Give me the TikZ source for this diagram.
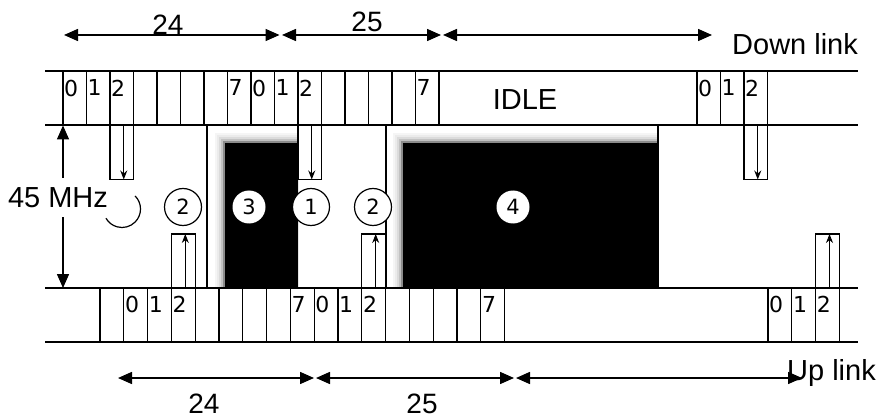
\documentclass[tikz,border=0pt]{standalone}
\usepackage{fontspec}
\setmainfont{Liberation Sans}
\newfontfamily\digitfont{DejaVu Sans}
\usetikzlibrary{arrows.meta,positioning,calc}

\begin{document}
\begin{tikzpicture}[x=1pt,y=1pt,
  slot/.style={draw,line width=1.3pt,minimum width=#1,minimum height=54pt,
               inner sep=0pt,outer sep=0pt,anchor=south west},
  slot/.default=23.5pt,
  num/.style={anchor=north west,inner sep=0pt,xshift=1pt,yshift=-8pt,
              font=\digitfont\fontsize{22}{22}\selectfont},
  big/.style={inner sep=0pt,font=\fontsize{29}{29}\selectfont},
  len/.style={big,anchor=base,font=\fontsize{28}{28}\selectfont},
  ring/.style={circle,draw,fill=white,line width=1.2pt,minimum size=37pt,
               inner sep=0pt,font=\digitfont\fontsize{21}{21}\selectfont},
  spot/.style={circle,fill=white,minimum size=33pt,inner sep=0pt,
               font=\digitfont\fontsize{21}{21}\selectfont},
  dimline/.style={<->,line width=1.5pt},
  feed/.style={-{Stealth[length=9pt,width=7pt]},line width=1pt},
  rail/.style={line width=2pt},
  edge/.style={line width=1.5pt},
  >={Triangle[length=14pt,width=12pt]}]
\useasboundingbox (0,0) rectangle (885,418);

% busy periods
\begin{scope}
  \clip (207,130) rectangle (298,292.5);
  \foreach \g/\d in {4/10,8/8,14/6,24/4,45/2}
    \fill[black!\g] (225-\d,130) rectangle (298+\d,275+\d);
  \fill (225,130) rectangle (298,275);
\end{scope}
\begin{scope}
  \clip (386,130) rectangle (658,292.5);
  \foreach \g/\d in {4/10,8/8,14/6,24/4,45/2}
    \fill[black!\g] (403-\d,130) rectangle (658+\d,275+\d);
  \fill (403,130) rectangle (658,275);
\end{scope}
\draw[edge] (207,130) -- (207,292.5);
\draw[edge] (386,130) -- (386,292.5);
\draw[edge] (658,130) -- (658,292.5);

\draw[rail] (45,346.5) -- (858,346.5);
\draw[rail] (45,292.5) -- (858,292.5);
\draw[rail] (45,130) -- (858,130);
\draw[rail] (45,76) -- (858,76);

% down link slots
\foreach \k in {0,...,15}
  \node[slot] (d\k) at ({63+23.5*\k},292.5) {};
\foreach \k in {0,1,2}
  \node[slot] (dr\k) at ({697+23.5*\k},292.5) {};
\foreach \k/\n in {0/0,1/1,2/2,7/7,8/0,9/1,10/2,15/7}
  \node[num] (nd\k) at (d\k.north west) {\n};
\foreach \k in {0,1,2}
  \node[num] (ndr\k) at (dr\k.north west) {\k};

% up link slots
\foreach \k in {0,...,16}
  \node[slot=23.8pt] (u\k) at ({100+23.8*\k},76) {};
\foreach \k in {0,1,2}
  \node[slot=23.8pt] (ur\k) at ({768+23.8*\k},76) {};
\foreach \k/\n in {1/0,2/1,3/2,8/7,9/0,10/1,11/2,16/7}
  \node[num] (nu\k) at (u\k.north west) {\n};
\foreach \k in {0,1,2}
  \node[num] (nur\k) at (ur\k.north west) {\k};

% slot 2 hand-off
\node[slot,anchor=north west] (qa) at (d2.south west) {};
\node[slot,anchor=north west] (qb) at (d10.south west) {};
\node[slot,anchor=north west] (qc) at (dr2.south west) {};
\node[slot=23.8pt] (pa) at (u3.north west) {};
\node[slot=23.8pt] (pb) at (u11.north west) {};
\node[slot=23.8pt] (pc) at (ur2.north west) {};
\foreach \b in {qa,qb,qc}
  \draw[feed] ([xshift=2pt]\b.north) -- ([xshift=2pt]\b.south);
\foreach \b in {pa,pb,pc}
  \draw[feed] ([xshift=2pt]\b.south) -- ([xshift=2pt]\b.north);

\draw[line width=1.2pt] (122,209) ++(45:18.5) arc[start angle=45,end angle=-150,radius=18.5];
\node[ring] (c2a) at (183,211) {2};
\node[spot] (c3) at (249,211) {3};
\node[ring] (c1) at (311,211) {1};
\node[ring] (c2b) at (373,211) {2};
\node[spot] (c4) at (513,211) {4};

\coordinate (mtop) at (63,292.5);
\coordinate (mbot) at (63,130);
\draw[dimline] (mtop) -- (mbot);
\node[big,fill=white,inner ysep=9pt] (mhz) at (58,220.5) {45 MHz};

\coordinate (ta) at (64,383);  \coordinate (tb) at (279.5,383);
\coordinate (tc) at (282,383); \coordinate (td) at (441,383);
\coordinate (te) at (443,383); \coordinate (tf) at (712,383);
\draw[dimline] (ta) -- (tb); \draw[dimline] (tc) -- (td); \draw[dimline] (te) -- (tf);
\coordinate (ba) at (118,40);  \coordinate (bb) at (314,40);
\coordinate (bc) at (316,40);  \coordinate (bd) at (514,40);
\coordinate (be) at (516,40);  \coordinate (bf) at (802,40);
\draw[dimline] (ba) -- (bb); \draw[dimline] (bc) -- (bd); \draw[dimline] (be) -- (bf);

\node[len] (lt24) at (168,383) {24};
\node[len] (lt25) at (367,386) {25};
\node[len] (lb24) at (204,5) {24};
\node[len] (lb25) at (422,5) {25};
\node[big,anchor=base west] (ldown) at (732,363) {Down link};
\node[big,anchor=base] (lidle) at (525,308) {IDLE};
\node[big,anchor=base west] (lup) at (787,38) {Up link};
\end{tikzpicture}
\end{document}
